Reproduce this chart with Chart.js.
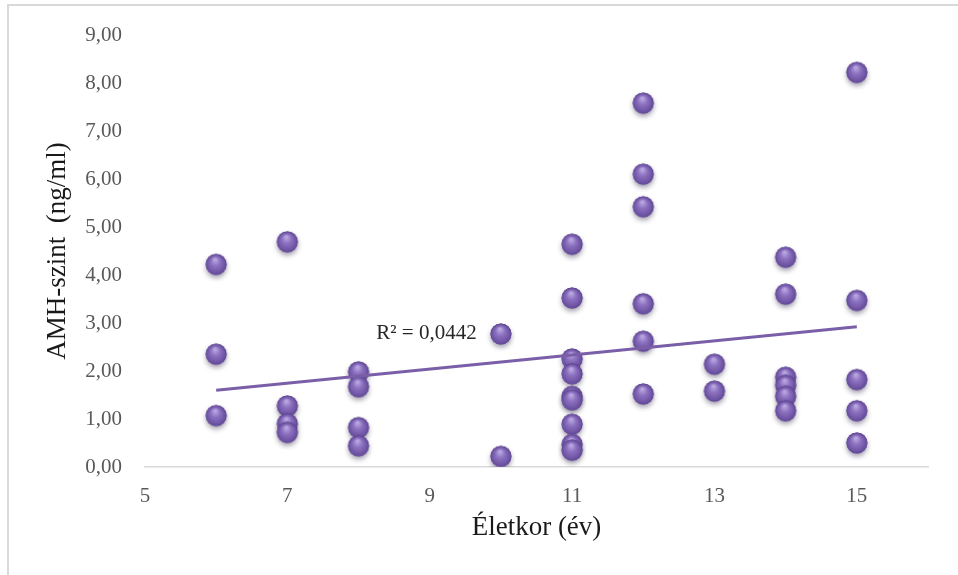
<!DOCTYPE html>
<html>
<head>
<meta charset="utf-8">
<script src="https://cdn.jsdelivr.net/npm/chart.js@4.4.1/dist/chart.umd.min.js"></script>
<style>
  html, body { margin:0; padding:0; background:#fff; }
  #wrap { position:relative; width:958px; height:575px; overflow:hidden; }
  #frame { position:absolute; left:7px; top:4px; right:-4px; bottom:-4px; border-left:2px solid #d9d9d9; border-top:2px solid #d9d9d9; pointer-events:none; }
  canvas { position:absolute; left:0; top:0; }
</style>
</head>
<body>
<div id="wrap">
  <canvas id="amhChart" width="958" height="575"></canvas>
  <div id="frame"></div>
</div>
<script>
// age (years) and AMH level (ng/ml), one entry per subject
const ageValues = [
  6, 6, 6,
  7, 7, 7, 7,
  8, 8, 8, 8,
  10, 10,
  11, 11, 11, 11, 11, 11, 11, 11, 11,
  12, 12, 12, 12, 12, 12,
  13, 13,
  14, 14, 14, 14, 14, 14,
  15, 15, 15, 15, 15
];
const amhValues = [
  4.20, 2.33, 1.05,
  4.67, 1.25, 0.88, 0.70,
  1.96, 1.65, 0.80, 0.42,
  2.75, 0.20,
  4.62, 3.50, 2.23, 1.92, 1.45, 1.38, 0.87, 0.45, 0.33,
  7.56, 6.08, 5.40, 3.38, 2.60, 1.50,
  2.12, 1.56,
  4.35, 3.58, 1.85, 1.68, 1.45, 1.15,
  8.20, 3.45, 1.80, 1.15, 0.48
];
// linear trend line end points
const trendAges = [6, 15];
const trendAmh = [1.60, 2.92];
const r2Text = 'R² = 0,0442';
const r2Pos = [9.66, 2.79];
const xTicks = [5, 7, 9, 11, 13, 15];

const serif = "'Liberation Serif', 'Times New Roman', serif";
const purple = '#7a5ea8';

// shaded sphere used as the marker image
function sphere(){
  const c = document.createElement('canvas');
  c.width = 34; c.height = 34;
  const g = c.getContext('2d');
  const cx = 17, cy = 16, r = 10.5;
  g.save();
  g.shadowColor = 'rgba(60,50,80,0.45)';
  g.shadowBlur = 5;
  g.shadowOffsetY = 3;
  g.beginPath(); g.arc(cx, cy, r, 0, Math.PI*2);
  g.fillStyle = '#6e54a0'; g.fill();
  g.restore();
  const grad = g.createRadialGradient(cx - 1, cy - 5, 1, cx, cy + 1, r + 1);
  grad.addColorStop(0, '#b8a6e0');
  grad.addColorStop(0.35, '#8c71c0');
  grad.addColorStop(0.8, '#6a50a0');
  grad.addColorStop(1, '#4d3a7c');
  g.beginPath(); g.arc(cx, cy, r, 0, Math.PI*2);
  g.fillStyle = grad; g.fill();
  return c;
}
const ball = sphere();

const r2Label = {
  id:'r2Label',
  afterDatasetsDraw(chart){
    const {ctx, scales:{x, y}} = chart;
    ctx.save();
    ctx.font = '21px ' + serif;
    ctx.fillStyle = '#262626';
    ctx.textAlign = 'right';
    ctx.textBaseline = 'middle';
    ctx.fillText(r2Text, x.getPixelForValue(r2Pos[0]), y.getPixelForValue(r2Pos[1]));
    ctx.restore();
  }
};

new Chart(document.getElementById('amhChart'), {
  type:'scatter',
  data:{
    datasets:[
      { type:'line', label:'trend', data: trendAges.map((a,i)=>({x:a, y:trendAmh[i]})), borderColor:purple, borderWidth:3, pointRadius:0, fill:false, order:0 },
      { label:'AMH', data: ageValues.map((a,i)=>({x:a, y:amhValues[i]})), pointStyle:ball, pointRadius:11, order:1 }
    ]
  },
  options:{
    responsive:false, animation:false,
    layout:{ padding:{ top:35, right:30, bottom:0, left:0 } },
    plugins:{ legend:{ display:false }, tooltip:{ enabled:false } },
    scales:{
      x:{
        type:'linear', min:5, max:16,
        afterBuildTicks: s => { s.ticks = xTicks.map(v=>({value:v})); },
        afterFit: s => { s.height = 108; s.paddingLeft = 0; s.paddingRight = 0; },
        grid:{ display:false, drawTicks:false },
        border:{ display:true, color:'#d9d9d9', width:1.5 },
        ticks:{ color:'#595959', padding:17, font:{ family:serif, size:21 } },
        title:{ display:true, text:'Életkor (év)', color:'#1a1a1a', font:{ family:serif, size:27 }, padding:{ top:0, bottom:31 } }
      },
      y:{
        min:0, max:9,
        afterFit: s => { s.width = 145; s.paddingTop = 0; s.paddingBottom = 0; },
        grid:{ display:false, drawTicks:false },
        border:{ display:false },
        ticks:{ stepSize:1, color:'#595959', padding:23, font:{ family:serif, size:21 }, callback: v => v.toFixed(2).replace('.', ',') },
        title:{ display:true, text:'AMH-szint  (ng/ml)', color:'#1a1a1a', font:{ family:serif, size:27 }, padding:{ top:42, bottom:0 } }
      }
    }
  },
  plugins:[r2Label]
});
</script>
</body>
</html>
